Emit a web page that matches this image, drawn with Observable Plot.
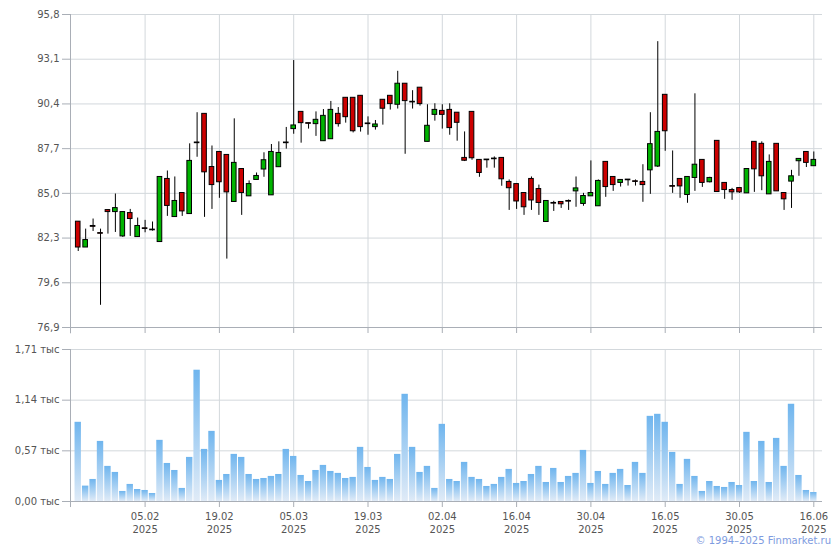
<!DOCTYPE html>
<html><head><meta charset="utf-8">
<script src="https://cdn.jsdelivr.net/npm/d3@7"></script>
<script src="https://cdn.jsdelivr.net/npm/@observablehq/plot@0.6"></script>
<style>
body{margin:0;background:#fff;}
#wrap{position:relative;width:840px;height:550px;font-family:"DejaVu Sans",Verdana,sans-serif;}
#price{position:absolute;left:0;top:0;}
#vol{position:absolute;left:0;top:335px;}
#credit{position:absolute;right:9px;top:535px;font-size:10px;line-height:12px;color:#7e9be0;}
</style></head><body>
<div id="wrap"><div id="price"></div><div id="vol"></div><div id="credit">© 1994–2025 Finmarket.ru</div></div>
<script>
// Trading days (categories)
const dates = [
"23.01.2025","24.01.2025","27.01.2025","28.01.2025","29.01.2025","30.01.2025","31.01.2025",
"03.02.2025","04.02.2025","05.02.2025","06.02.2025","07.02.2025","10.02.2025","11.02.2025","12.02.2025","13.02.2025","14.02.2025","17.02.2025","18.02.2025","19.02.2025","20.02.2025","21.02.2025","24.02.2025","25.02.2025","26.02.2025","27.02.2025","28.02.2025",
"03.03.2025","04.03.2025","05.03.2025","06.03.2025","07.03.2025","10.03.2025","11.03.2025","12.03.2025","13.03.2025","14.03.2025","17.03.2025","18.03.2025","19.03.2025","20.03.2025","21.03.2025","24.03.2025","25.03.2025","26.03.2025","27.03.2025","28.03.2025","31.03.2025",
"01.04.2025","02.04.2025","03.04.2025","04.04.2025","07.04.2025","08.04.2025","09.04.2025","10.04.2025","11.04.2025","14.04.2025","15.04.2025","16.04.2025","17.04.2025","18.04.2025","21.04.2025","22.04.2025","23.04.2025","24.04.2025","25.04.2025","28.04.2025","29.04.2025","30.04.2025",
"02.05.2025","05.05.2025","06.05.2025","07.05.2025","08.05.2025","12.05.2025","13.05.2025","14.05.2025","15.05.2025","16.05.2025","19.05.2025","20.05.2025","21.05.2025","22.05.2025","23.05.2025","26.05.2025","27.05.2025","28.05.2025","29.05.2025","30.05.2025",
"02.06.2025","03.06.2025","04.06.2025","05.06.2025","06.06.2025","09.06.2025","10.06.2025","11.06.2025","13.06.2025","16.06.2025"
];
const open = [
83.29,81.73,83.03,82.60,83.99,83.87,82.40,83.81,82.36,82.89,
82.81,82.06,85.87,83.57,85.02,83.75,88.07,89.80,86.59,87.50,
87.32,84.48,86.47,84.82,85.81,86.44,84.88,86.58,88.07,88.88,
89.92,89.24,89.18,88.15,88.27,89.80,90.77,90.77,90.89,89.22,
89.00,90.65,90.89,90.35,91.62,90.53,91.38,88.11,89.74,89.98,
90.04,89.87,87.14,89.92,87.02,87.04,87.10,87.14,85.69,85.56,
85.02,85.87,85.26,83.27,84.42,84.48,84.54,85.12,84.36,84.82,
84.22,86.90,85.99,85.63,85.83,85.73,85.69,86.39,86.62,90.95,
85.44,85.87,84.90,85.93,87.02,85.67,88.17,85.63,85.20,85.32,
85.00,88.11,87.99,84.94,87.99,85.02,85.71,86.94,87.50,86.64];
const high = [
83.29,82.84,83.45,82.84,83.99,84.96,83.87,84.03,83.51,83.37,
83.27,85.99,86.35,85.99,85.02,87.99,89.87,89.80,87.86,87.50,
87.32,89.50,86.47,85.75,86.23,87.45,87.95,88.11,88.98,93.02,
89.92,89.24,89.92,90.06,90.55,90.18,90.77,90.77,90.89,89.62,
89.40,90.65,90.89,92.37,91.62,91.20,91.38,90.35,90.41,90.35,
90.41,89.87,88.71,89.92,87.02,87.04,87.20,87.14,85.81,85.56,
85.02,85.99,85.50,84.54,84.52,84.48,84.60,85.99,85.00,86.96,
85.81,86.90,85.99,85.81,85.83,85.81,86.73,89.87,94.16,90.95,
87.56,85.87,85.99,91.01,87.02,85.97,88.17,85.63,85.30,85.32,
86.47,88.11,88.11,87.32,87.99,85.02,86.39,87.08,87.50,87.50];
const low = [
81.49,81.73,82.70,78.24,82.54,82.64,82.34,82.40,82.36,82.62,
82.72,82.06,83.61,83.57,83.61,83.75,87.18,83.55,84.03,84.70,
81.03,84.48,83.67,84.82,85.81,85.97,84.88,86.58,87.67,88.57,
88.03,88.88,88.44,88.15,88.27,89.00,89.24,88.65,88.70,88.51,
88.82,89.12,90.03,90.09,87.36,90.09,90.27,88.11,89.36,88.88,
88.51,88.15,86.92,87.00,85.97,86.52,86.52,85.43,83.97,84.03,
83.67,83.97,83.67,83.27,83.91,84.09,83.97,84.16,84.22,84.82,
84.22,84.76,85.12,85.38,85.44,85.44,84.46,84.94,86.56,87.54,
85.00,84.70,84.40,85.12,85.36,85.63,85.06,84.64,84.58,85.00,
85.00,85.06,85.16,84.94,85.12,83.97,84.09,86.03,86.56,86.64];
const close = [
81.73,82.18,82.98,82.56,83.87,84.11,83.87,83.45,83.03,82.85,
82.77,85.99,84.24,84.54,83.91,86.96,88.03,86.27,85.50,85.67,
85.06,86.84,85.02,85.56,86.05,87.00,87.50,87.44,88.03,89.10,
89.24,89.20,89.44,89.68,90.04,89.18,89.60,88.75,89.00,89.18,
89.16,90.11,90.39,91.62,90.57,90.49,90.39,89.08,90.04,89.74,
88.94,89.26,86.97,87.12,86.23,87.00,87.06,85.85,85.31,84.51,
84.16,84.57,84.42,84.54,84.38,84.34,84.50,85.30,84.84,85.02,
85.75,85.38,85.50,85.81,85.79,85.69,85.50,87.97,88.71,88.75,
85.40,85.42,85.99,86.73,85.63,85.93,85.08,85.20,85.06,85.06,
86.47,86.45,86.03,86.90,85.12,84.64,86.03,87.08,86.84,87.02];
// Volume, thousand
const volume = [
0.891,0.173,0.248,0.676,0.395,0.327,0.113,0.192,0.135,0.124,
0.090,0.688,0.428,0.349,0.147,0.496,1.477,0.586,0.789,0.237,
0.304,0.530,0.496,0.304,0.248,0.259,0.282,0.304,0.586,0.507,
0.293,0.225,0.349,0.406,0.338,0.316,0.259,0.271,0.609,0.383,
0.237,0.271,0.248,0.530,1.206,0.609,0.327,0.395,0.147,0.868,
0.248,0.225,0.440,0.271,0.248,0.169,0.192,0.271,0.361,0.203,
0.225,0.304,0.395,0.214,0.372,0.214,0.282,0.316,0.575,0.203,
0.338,0.192,0.316,0.361,0.180,0.440,0.316,0.958,0.981,0.891,
0.552,0.192,0.474,0.282,0.113,0.225,0.169,0.158,0.214,0.180,
0.778,0.225,0.676,0.214,0.710,0.395,1.094,0.293,0.124,0.101];
const tickDates = ["05.02.2025","19.02.2025","05.03.2025","19.03.2025","02.04.2025","16.04.2025","30.04.2025","16.05.2025","30.05.2025","16.06.2025"];
const priceTicks = [76.9,79.6,82.3,85.0,87.7,90.4,93.1,95.8];
const volTicks = [0,0.57,1.14,1.71];

const rows = dates.map((d, i) => ({i, date: d, open: open[i], high: high[i], low: low[i], close: close[i], vol: volume[i]}));
const tickIdx = tickDates.map(d => dates.indexOf(d));
const X0 = -1.04, X1 = 100.17;
const GRID = "#d3d8dc", AXIS = "#a9aeb6", TXT = "#555";
const font = {fontFamily: "'DejaVu Sans', Verdana, sans-serif", fontSize: "10px", color: TXT, background: "transparent", overflow: "visible"};

const price = Plot.plot({
  width: 840, height: 334,
  marginLeft: 70, marginRight: 18, marginTop: 14, marginBottom: 7,
  style: font,
  x: {domain: [X0, X1], axis: null},
  y: {domain: [76.9, 95.8], axis: null},
  color: {type: "identity"},
  marks: [
    Plot.gridY(priceTicks, {stroke: GRID, strokeOpacity: 1}),
    Plot.gridX(tickIdx, {stroke: GRID, strokeOpacity: 1}),
    Plot.ruleY([76.9], {stroke: AXIS}),
    Plot.ruleX([X0], {y1: 76.52, y2: 95.8, stroke: AXIS}),
    Plot.axisY(priceTicks, {label: null, tickSize: 8, tickPadding: 3, tickFormat: d => d.toFixed(1).replace(".", ","), stroke: AXIS, fill: TXT}),
    Plot.axisX(tickIdx, {label: null, tickSize: 6, tickFormat: () => "", stroke: AXIS}),
    Plot.ruleX(rows, {x: "i", y1: "low", y2: "high", stroke: "#000", strokeWidth: 1}),
    Plot.rect(rows, {x1: d => d.i - 0.31, x2: d => d.i + 0.31, y1: "open", y2: "close",
      fill: d => d.close >= d.open ? "#00b400" : "#cc0000", stroke: "#000", strokeWidth: 1})
  ]
});
document.getElementById("price").append(price);

const vol = Plot.plot({
  width: 840, height: 200,
  marginLeft: 70, marginRight: 18, marginTop: 14, marginBottom: 34,
  style: font,
  x: {domain: [X0, X1], axis: null},
  y: {domain: [0, 1.71], axis: null},
  marks: [
    Plot.gridY(volTicks.slice(1), {stroke: GRID, strokeOpacity: 1}),
    Plot.gridX(tickIdx, {stroke: GRID, strokeOpacity: 1}),
    Plot.rect(rows, {x1: d => d.i - 0.43, x2: d => d.i + 0.43, y1: d => 0, y2: "vol", fill: "url(#volgrad)"}),
    Plot.ruleY([0], {stroke: AXIS}),
    Plot.ruleX([X0], {y1: -0.068, y2: 1.71, stroke: AXIS}),
    Plot.axisY(volTicks, {label: null, tickSize: 8, tickPadding: 3, tickFormat: d => d.toFixed(2).replace(".", ",") + " тыс", stroke: AXIS, fill: TXT}),
    Plot.axisX(tickIdx, {label: null, tickSize: 6, tickPadding: 3, lineHeight: 1.3, stroke: AXIS, fill: TXT,
      tickFormat: i => { const p = dates[i].split("."); return p[0] + "." + p[1] + "\n" + p[2]; }})
  ]
});
const defs = d3.select(vol).insert("defs", ":first-child");
const g = defs.append("linearGradient").attr("id", "volgrad").attr("x1", 0).attr("y1", 0).attr("x2", 0).attr("y2", 1);
g.append("stop").attr("offset", "0%").attr("stop-color", "#6fb5ee");
g.append("stop").attr("offset", "100%").attr("stop-color", "#e0ebf7");
document.getElementById("vol").append(vol);
</script>
</body></html>
